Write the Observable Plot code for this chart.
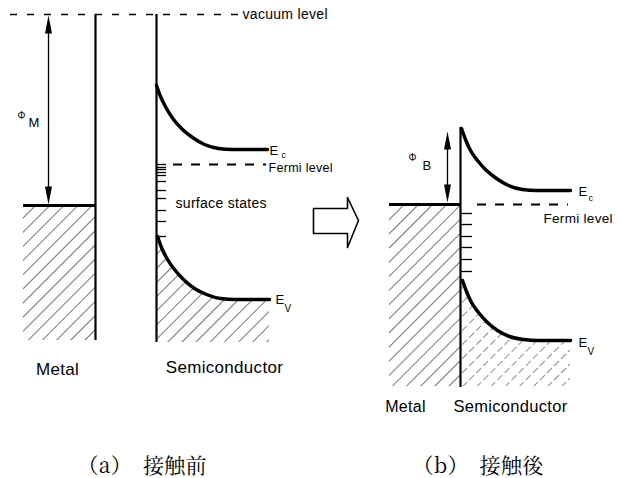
<!DOCTYPE html>
<html><head><meta charset="utf-8">
<script src="https://cdn.jsdelivr.net/npm/d3@7"></script>
<script src="https://cdn.jsdelivr.net/npm/@observablehq/plot@0.6"></script>
<style>html,body{margin:0;padding:0;background:#fff;}</style>
</head><body><div id="chart"></div>
<script>
// ---- diagram data (x = position across the junction, y = electron energy, drawn downward) ----
const vacuumLevel = [{y: 14, x1: 10, x2: 238}];
const metalBlocks = [
  {x1: 23, x2: 95, y1: 205, y2: 340},   // (a) metal, filled up to its Fermi level
  {x1: 389, x2: 460, y1: 204, y2: 386}  // (b) metal
];
const edges = [
  {x: 95, y1: 14, y2: 340},   // (a) metal surface
  {x: 156, y1: 14, y2: 342},  // (a) semiconductor surface
  {x: 460, y1: 127, y2: 387}  // (b) interface
];
const fermiDashed = [
  {y: 164, x1: 173, x2: 266},
  {y: 204, x1: 477, x2: 568}
];
const ecBefore = [[156,85],[160,96],[166,108],[173,119],[182,129],[192,137],[204,144],[218,148],[232,149],[267,149]];
const evBefore = [[157,236],[161,247],[167,259],[174,269],[183,279],[194,288],[206,294],[220,298],[235,299],[269,299]];
const ecAfter  = [[461,128],[465,139],[470,150],[477,160],[486,170],[496,178],[508,185],[522,189],[536,190],[570,190]];
const evAfter  = [[462,280],[466,291],[471,302],[478,312],[487,322],[497,330],[509,336],[523,339],[538,340],[570,340]];
const bottomBefore = 342;
const bottomAfter = 386;
const surfaceStatesBefore = [164,167,169,172,175,181,190,198,210,221,236];
const surfaceStatesAfter = [213,224,236,247,259,271];
const phiArrows = [
  {x: 48, y1: 15, y2: 204, dash: null},
  {x: 447, y1: 131, y2: 202, dash: "2,2"}
];
const contactArrow = [[313,208],[347,208],[347,197],[358,220],[347,247],[347,233],[313,233],[313,208]];
const labels = [
  {x: 242, y: 14, t: "vacuum level", s: 14},
  {x: 268, y: 167, t: "Fermi level", s: 12.5},
  {x: 175, y: 203, t: "surface states", s: 14},
  {x: 543, y: 218, t: "Fermi level", s: 13.5},
  {x: 269, y: 150, t: "E", s: 13}, {x: 281, y: 155, t: "c", s: 8.5},
  {x: 275, y: 299, t: "E", s: 13}, {x: 284, y: 308, t: "V", s: 10},
  {x: 578, y: 191, t: "E", s: 13}, {x: 588, y: 198, t: "c", s: 9},
  {x: 578, y: 342, t: "E", s: 13}, {x: 587, y: 351, t: "V", s: 10},
  {x: 17, y: 115, t: "Φ", s: 10}, {x: 28, y: 122, t: "M", s: 13},
  {x: 408, y: 157, t: "Φ", s: 10}, {x: 422, y: 165, t: "B", s: 13}
];
const regionLabels = [
  {x: 57, y: 369, t: "Metal", s: 17},
  {x: 224, y: 367, t: "Semiconductor", s: 17},
  {x: 405, y: 406, t: "Metal", s: 16},
  {x: 510, y: 406, t: "Semiconductor", s: 16.5}
];
const captions = [
  {x: 77, y: 466, t: "（a）　接触前"},
  {x: 412, y: 466, t: "（b）　接触後"}
];

// arrowheads derived from the Φ arrows' ends
const headUp = {draw(ctx){ ctx.moveTo(0,-9); ctx.lineTo(3.5,9); ctx.lineTo(-3.5,9); ctx.closePath(); }};
const heads = phiArrows.flatMap(a => [
  {x: a.x, y: a.y1 + 9, rot: 0},
  {x: a.x, y: a.y2 - 9, rot: 180}
]);

const sans = "'Liberation Sans', Arial, Helvetica, sans-serif";
const area = (pts, bottom) => pts.map(([x,y]) => ({x, y, b: bottom}));

const svg = Plot.plot({
  width: 626, height: 478,
  margin: 0,
  x: {domain: [0, 626], range: [0, 626], axis: null},
  y: {domain: [0, 478], range: [0, 478], axis: null},
  marks: [
    // hatched filled states
    Plot.rect(metalBlocks, {x1: "x1", x2: "x2", y1: "y1", y2: "y2", fill: "url(#hatch)"}),
    Plot.areaY(area(evBefore, bottomBefore), {x: "x", y1: "y", y2: "b", fill: "url(#hatch)", curve: "monotone-x"}),
    Plot.areaY(area(evAfter, bottomAfter), {x: "x", y1: "y", y2: "b", fill: "url(#hatch2)", curve: "monotone-x"}),
    // vacuum level
    Plot.ruleY(vacuumLevel, {y: "y", x1: "x1", x2: "x2", stroke: "#000", strokeWidth: 1.6, strokeDasharray: "7,10"}),
    // Fermi levels
    Plot.ruleY(fermiDashed, {y: "y", x1: "x1", x2: "x2", stroke: "#000", strokeWidth: 2, strokeDasharray: "9,9"}),
    Plot.ruleY(metalBlocks, {y: "y1", x1: "x1", x2: "x2", stroke: "#000", strokeWidth: 2.8}),
    // surfaces
    Plot.ruleX(edges, {x: "x", y1: "y1", y2: "y2", stroke: "#000", strokeWidth: 2.2}),
    // surface states
    Plot.ruleY(surfaceStatesBefore, {y: d => d, x1: 156, x2: 166, stroke: "#000", strokeWidth: 1.3}),
    Plot.ruleY(surfaceStatesAfter, {y: d => d, x1: 460, x2: 472, stroke: "#000", strokeWidth: 1.3}),
    // band edges
    Plot.line(ecBefore, {x: d => d[0], y: d => d[1], stroke: "#000", strokeWidth: 3.5, curve: "monotone-x"}),
    Plot.line(evBefore, {x: d => d[0], y: d => d[1], stroke: "#000", strokeWidth: 3.5, curve: "monotone-x"}),
    Plot.line(ecAfter, {x: d => d[0], y: d => d[1], stroke: "#000", strokeWidth: 3.5, curve: "monotone-x"}),
    Plot.line(evAfter, {x: d => d[0], y: d => d[1], stroke: "#000", strokeWidth: 3.5, curve: "monotone-x"}),
    // work function / barrier arrows
    Plot.ruleX(phiArrows, {x: "x", y1: d => d.y1 + 10, y2: d => d.y2 - 10, stroke: "#000", strokeWidth: 1.3, strokeDasharray: "dash"}),
    Plot.dot(heads, {x: "x", y: "y", symbol: headUp, rotate: "rot", fill: "#000", stroke: "none", r: 5}),
    // hollow arrow between panels
    Plot.line(contactArrow, {x: d => d[0], y: d => d[1], stroke: "#000", strokeWidth: 1.6, fill: "#fff", curve: "linear"}),
    // labels
    Plot.text(labels, {x: "x", y: "y", text: "t", fontSize: "s", textAnchor: "start", fill: "#000", fontFamily: sans}),
    Plot.text(regionLabels, {x: "x", y: "y", text: "t", fontSize: "s", textAnchor: "middle", fill: "#000", fontFamily: sans}),
    Plot.text(captions, {x: "x", y: "y", text: "t", fontSize: 21, textAnchor: "start", fill: "#000", fontFamily: "'Noto Serif CJK JP','Noto Sans CJK JP',serif"})
  ]
});

const defs = d3.select(svg).insert("defs", ":first-child");
[["hatch", 10, 1.1], ["hatch2", 10, 0.9]].forEach(([id, w, sw]) => {
  const p = defs.append("pattern").attr("id", id).attr("patternUnits", "userSpaceOnUse")
    .attr("width", w).attr("height", 10).attr("patternTransform", "rotate(45)");
  p.append("line").attr("x1", 0).attr("y1", 0).attr("x2", 0).attr("y2", 10)
    .attr("stroke", "#000").attr("stroke-width", sw)
    .attr("stroke-dasharray", id === "hatch2" ? "7,3" : null);
});
// letter spacing for the scanned-look small labels
d3.select(svg).selectAll("text").style("letter-spacing", "0.3px");
document.getElementById("chart").appendChild(svg);
</script>
</body></html>
